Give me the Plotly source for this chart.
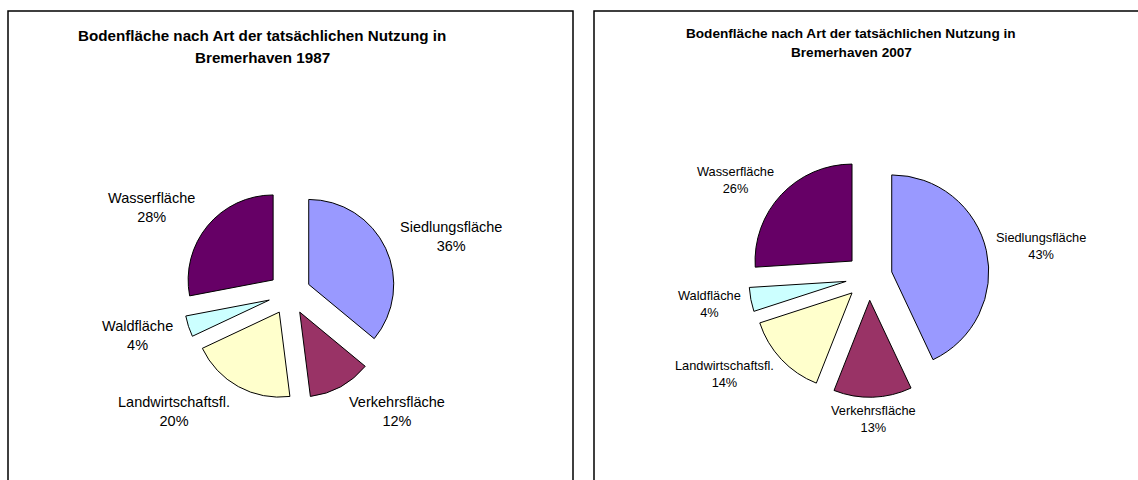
import math
import plotly.graph_objects as go

# ---- data ----
categories = ["Siedlungsfläche", "Verkehrsfläche", "Landwirtschaftsfl.", "Waldfläche", "Wasserfläche"]
values_1987 = [36, 12, 20, 4, 28]
values_2007 = [43, 13, 14, 4, 26]
title_lines_1987 = ["Bodenfläche nach Art der tatsächlichen Nutzung in", "Bremerhaven 1987"]
title_lines_2007 = ["Bodenfläche nach Art der tatsächlichen Nutzung in", "Bremerhaven 2007"]
colors = ["#9999FF", "#993366", "#FFFFCC", "#CCFFFF", "#660066"]

W, H = 1138, 480
FONT = "Liberation Sans, Arial, sans-serif"

panels = [
    dict(values=values_1987, titles=title_lines_1987, cx=289.5, cy=293.5, r=85, pull=0.25,
         label_rx=120, label_ry=135, lfont=14.5, tx=262, ty=[35.5, 57.8], tfont=15.2),
    dict(values=values_2007, titles=title_lines_2007, cx=869, cy=277, r=97, pull=0.24,
         label_rx=128, label_ry=142, lfont=12.8, tx=851, ty=[34, 52], tfont=13.6),
]


def px(x):
    return x / W


def py(y):
    return 1 - y / H


fig = go.Figure()
annotations = []
for p in panels:
    half = p["r"] * (1 + p["pull"])
    fig.add_trace(go.Pie(
        labels=categories, values=p["values"], sort=False, direction="clockwise", rotation=0,
        pull=[p["pull"]] * len(categories),
        marker=dict(colors=colors, line=dict(color="#000000", width=1)),
        textinfo="none", hoverinfo="label+percent", showlegend=False,
        domain=dict(x=[px(p["cx"] - half), px(p["cx"] + half)],
                    y=[py(p["cy"] + half), py(p["cy"] - half)]),
    ))
    total = sum(p["values"])
    cum = 0
    for lab, v in zip(categories, p["values"]):
        mid = (cum + v / 2) / total * 2 * math.pi
        cum += v
        s, c = math.sin(mid), math.cos(mid)
        ax = p["cx"] + p["label_rx"] * s
        ay = p["cy"] - p["label_ry"] * c
        xanchor = "left" if s > 0.25 else ("right" if s < -0.25 else "center")
        annotations.append(dict(
            x=px(ax), y=py(ay), xref="paper", yref="paper", showarrow=False,
            xanchor=xanchor, yanchor="middle", align="center",
            text=f"{lab}<br>{round(v / total * 100)}%",
            font=dict(family=FONT, size=p["lfont"], color="#000000"),
        ))
    for line, yy in zip(p["titles"], p["ty"]):
        annotations.append(dict(
            x=px(p["tx"]), y=py(yy), xref="paper", yref="paper", showarrow=False,
            xanchor="center", yanchor="middle", text=f"<b>{line}</b>",
            font=dict(family=FONT, size=p["tfont"], color="#000000"),
        ))

shapes = [
    dict(type="rect", xref="paper", yref="paper", x0=px(8), x1=px(573), y0=py(490), y1=py(11),
         line=dict(color="#000000", width=1.5), fillcolor="rgba(0,0,0,0)"),
    dict(type="rect", xref="paper", yref="paper", x0=px(594), x1=px(1150), y0=py(490), y1=py(11),
         line=dict(color="#000000", width=1.5), fillcolor="rgba(0,0,0,0)"),
]

fig.update_layout(
    width=W, height=H, margin=dict(l=0, r=0, t=0, b=0),
    paper_bgcolor="#FFFFFF", plot_bgcolor="#FFFFFF",
    annotations=annotations, shapes=shapes,
    font=dict(family=FONT),
)

fig.write_html("out.html")
